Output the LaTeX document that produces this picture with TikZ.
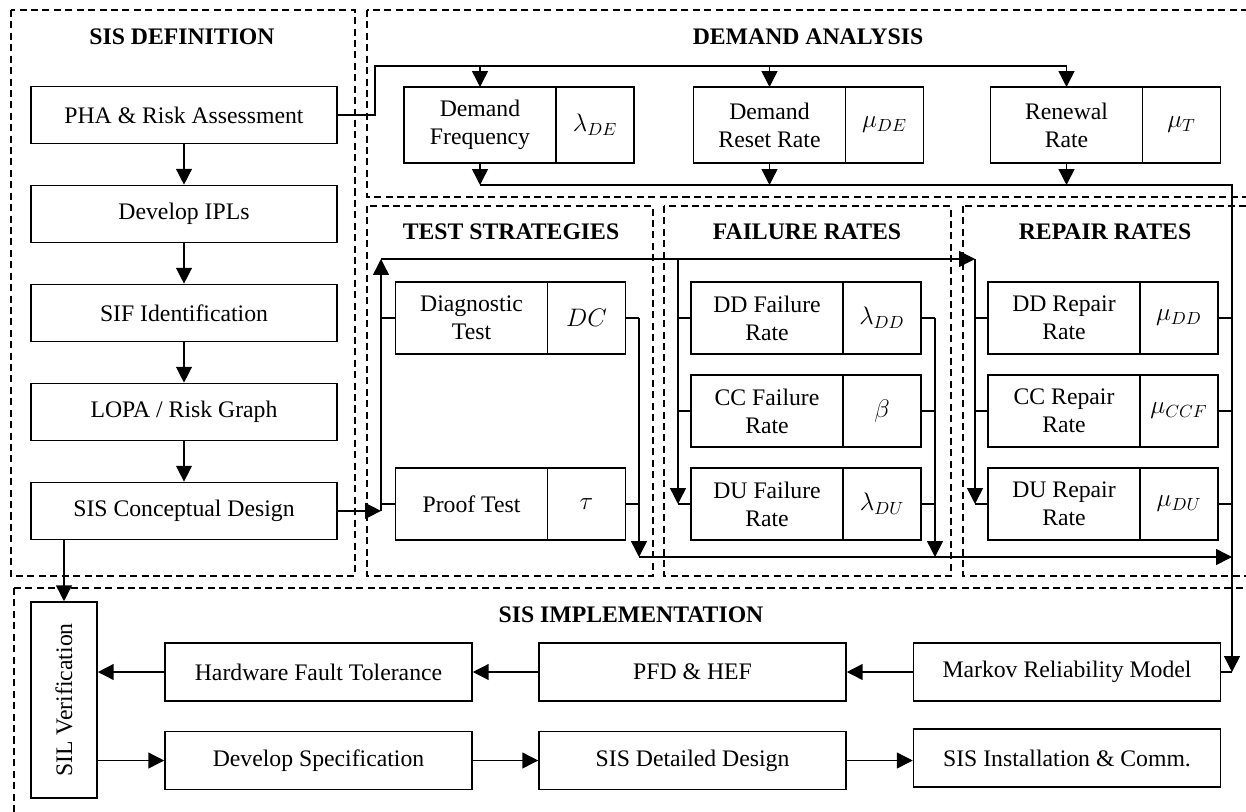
\documentclass[tikz,border=0pt]{standalone}
\usepackage{fontspec}
\setmainfont{Liberation Serif}
\usepackage{graphicx}
\usetikzlibrary{positioning,arrows.meta}

\begin{document}
\begin{tikzpicture}[x=0.02cm, y=-0.02cm, font=\fontsize{13.5}{16}\selectfont]
    \tikzstyle{stage} = [rectangle, minimum width=6.12cm, minimum height=1.14cm, text centered, draw=black, line width=0.9pt, node distance=1.98cm]
    \tikzstyle{param} = [rectangle, minimum width=3.04cm, minimum height=1.43cm, align=center, draw=black, line width=0.9pt, inner sep=1pt, outer sep=0pt]
    \tikzstyle{sym} = [rectangle, minimum width=1.56cm, minimum height=1.43cm, text centered, draw=black, line width=0.9pt, outer sep=0pt, font=\fontsize{14}{16}\selectfont]
    \tikzstyle{block} = [rectangle, minimum width=6.14cm, minimum height=1.16cm, text centered, draw=black, line width=0.9pt]
    \tikzstyle{frame} = [dash pattern=on 4pt off 2.5pt, line width=0.8pt]
    \tikzstyle{heading} = [font=\fontsize{13.5}{16}\selectfont\bfseries]
    \tikzstyle{arrow} = [line width=0.8pt, -{Triangle[length=9pt, width=9pt]}]
    \tikzstyle{bus} = [line width=0.8pt]

    \clip (0,0) rectangle (1246,811);

    % dashed group frames
    \draw [frame] (11,10) rectangle (355,576);
    \draw [frame] (367,10) rectangle (1260,197);
    \draw [frame] (367,206) rectangle (653,576);
    \draw [frame] (664,206) rectangle (951,576);
    \draw [frame] (963,206) rectangle (1260,576);
    \draw [frame] (14,588) rectangle (1260,830);

    \node (defhead) [heading] at (182,37) {SIS DEFINITION};
    \node (demhead) [heading] at (808,37) {DEMAND ANALYSIS};
    \node (testhead) [heading] at (511,232) {TEST STRATEGIES};
    \node (failhead) [heading] at (807,232) {FAILURE RATES};
    \node (rephead) [heading] at (1105,232) {REPAIR RATES};
    \node (implhead) [heading] at (631,615) {SIS IMPLEMENTATION};

    % SIS definition
    \node (pha) [stage] at (184,115) {PHA \& Risk Assessment};
    \node (ipl) [stage, below of=pha] {Develop IPLs};
    \node (sif) [stage, below of=ipl] {SIF Identification};
    \node (lopa) [stage, below of=sif] {LOPA / Risk Graph};
    \node (concept) [stage, below of=lopa] {SIS Conceptual Design};

    % demand analysis
    \node (dfreq) [param, minimum height=1.52cm] at (480,125) {Demand\\Frequency};
    \node (dfreqv) [sym, minimum height=1.52cm, right=0pt of dfreq] {$\lambda_{DE}$};
    \node (dreset) [param, minimum height=1.52cm] at (769.5,125) {Demand\\Reset Rate};
    \node (dresetv) [sym, minimum height=1.52cm, right=0pt of dreset] {$\mu_{DE}$};
    \node (renew) [param, minimum height=1.52cm] at (1066.5,125) {Renewal\\Rate};
    \node (renewv) [sym, minimum height=1.52cm, right=0pt of renew] {$\mu_{T}$};

    % test strategies
    \node (diag) [param] at (471.5,318) {Diagnostic\\Test};
    \node (diagv) [sym, right=0pt of diag] {$DC$};
    \node (proof) [param] at (471.5,504) {Proof Test};
    \node (proofv) [sym, right=0pt of proof] {$\tau$};

    % failure rates
    \node (ddfail) [param] at (767,318) {DD Failure\\Rate};
    \node (ddfailv) [sym, right=0pt of ddfail] {$\lambda_{DD}$};
    \node (ccfail) [param] at (767,411) {CC Failure\\Rate};
    \node (ccfailv) [sym, right=0pt of ccfail] {$\beta$};
    \node (dufail) [param] at (767,504) {DU Failure\\Rate};
    \node (dufailv) [sym, right=0pt of dufail] {$\lambda_{DU}$};

    % repair rates
    \node (ddrep) [param] at (1064,318) {DD Repair\\Rate};
    \node (ddrepv) [sym, right=0pt of ddrep] {$\mu_{DD}$};
    \node (ccrep) [param] at (1064,411) {CC Repair\\Rate};
    \node (ccrepv) [sym, right=0pt of ccrep] {$\mu_{CCF}$};
    \node (durep) [param] at (1064,504) {DU Repair\\Rate};
    \node (durepv) [sym, right=0pt of durep] {$\mu_{DU}$};

    % SIS implementation
    \node (silver) [rectangle, draw=black, line width=0.9pt, minimum width=1.32cm, minimum height=3.92cm] at (64,700) {\rotatebox{90}{SIL Verification}};
    \node (hft) [block] at (318.5,672) {Hardware Fault Tolerance};
    \node (pfd) [block] at (692.5,672) {PFD \& HEF};
    \node (markov) [block] at (1067,672) {Markov Reliability Model};
    \node (devspec) [block] at (318.5,760.5) {Develop Specification};
    \node (detail) [block] at (692.5,760.5) {SIS Detailed Design};
    \node (install) [block] at (1067,758) {SIS Installation \& Comm.};

    \draw [arrow] (pha) -- (ipl);
    \draw [arrow] (ipl) -- (sif);
    \draw [arrow] (sif) -- (lopa);
    \draw [arrow] (lopa) -- (concept);

    % demand inputs and outputs
    \coordinate (dtop) at (375,66);
    \coordinate (dbot) at (1232,185);
    \draw [arrow] (pha.east) -| (dtop) -| (renew.north);
    \draw [arrow] (dfreq.north |- dtop) -- (dfreq.north);
    \draw [arrow] (dreset.north |- dtop) -- (dreset.north);
    \draw [arrow] (dfreq.south) -- (dfreq.south |- dbot);
    \draw [arrow] (dreset.south) -- (dreset.south |- dbot);
    \draw [arrow] (renew.south) -- (renew.south |- dbot);
    \draw [arrow] (dfreq.south |- dbot) -- (dbot) -- (dbot |- markov.east);
    \draw [bus] (markov.east) -- (dbot |- markov.east);

    % test strategies bus
    \coordinate (tleft) at (381,259);
    \coordinate (rleft) at (975,259);
    \coordinate (bbus) at (639,557);
    \draw [arrow] (concept.east) -- (concept.east -| tleft);
    \draw [arrow] (concept.east -| tleft) -- (tleft);
    \draw [bus] (diag.west) -- (diag.west -| tleft);
    \draw [bus] (proof.west) -- (proof.west -| tleft);
    \draw [arrow] (tleft) -- (rleft);
    \draw [bus] (diagv.east) -- (diagv.east -| bbus);
    \draw [bus] (proofv.east) -- (proofv.east -| bbus);
    \draw [arrow] (diagv.east -| bbus) -- (bbus);
    \draw [arrow] (bbus) -- (bbus -| dbot);

    % failure rates bus
    \coordinate (fleft) at (678,259);
    \coordinate (fright) at (935,259);
    \draw [arrow] (fleft) -- (fleft |- dufail.west);
    \foreach \n in {ddfail, ccfail, dufail}
        \draw [bus] (\n.west) -- (\n.west -| fleft);
    \foreach \n in {ddfailv, ccfailv, dufailv}
        \draw [bus] (\n.east) -- (\n.east -| fright);
    \draw [arrow] (ddfailv.east -| fright) -- (fright |- bbus);

    % repair rates bus
    \draw [arrow] (rleft) -- (rleft |- durep.west);
    \foreach \n in {ddrep, ccrep, durep}
        \draw [bus] (\n.west) -- (\n.west -| rleft);
    \foreach \n in {ddrepv, ccrepv, durepv}
        \draw [bus] (\n.east) -- (\n.east -| dbot);

    % implementation flow
    \draw [arrow] (concept.south -| silver) -- (silver.north);
    \draw [arrow] (markov) -- (pfd);
    \draw [arrow] (pfd) -- (hft);
    \draw [arrow] (hft.west) -- (hft.west -| silver.east);
    \draw [arrow] (silver.east |- devspec.west) -- (devspec.west);
    \draw [arrow] (devspec) -- (detail);
    \draw [arrow] (detail.east) -- (detail.east -| install.west);
\end{tikzpicture}
\end{document}
